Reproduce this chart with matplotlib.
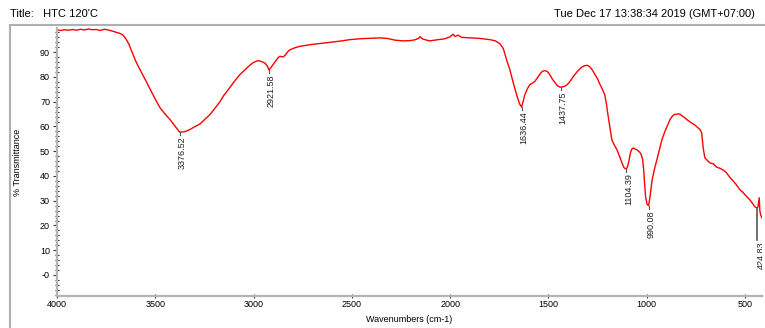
import matplotlib
matplotlib.use("Agg")
import matplotlib.pyplot as plt
from matplotlib.patches import Rectangle

plt.rcParams['font.family'] = ['Liberation Sans', 'DejaVu Sans']

# FTIR spectrum (wavenumber, %T)
wavenumber = [4000, 3980, 3960, 3940, 3920, 3900, 3880, 3860, 3840, 3820, 3800, 3780,
              3760, 3740, 3720, 3700, 3680, 3665, 3650, 3635, 3620, 3600, 3578, 3550,
              3527, 3500, 3476, 3450, 3425, 3400, 3376, 3350, 3323, 3300, 3273, 3250,
              3222, 3200, 3171, 3150, 3120, 3100, 3069, 3040, 3018, 3000, 2978, 2960,
              2942, 2930, 2921, 2910, 2891, 2875, 2866, 2850, 2840, 2825, 2815, 2790,
              2764, 2700, 2611, 2550, 2510, 2450, 2357, 2320, 2281, 2240, 2204, 2180,
              2160, 2153, 2140, 2120, 2103, 2060, 2030, 2001, 1985, 1975, 1960, 1940,
              1899, 1850, 1797, 1770, 1746, 1730, 1721, 1710, 1696, 1683, 1670, 1657,
              1645, 1636, 1628, 1620, 1607, 1594, 1580, 1569, 1556, 1543, 1530, 1518,
              1505, 1492, 1480, 1467, 1454, 1441, 1428, 1416, 1403, 1390, 1370, 1350,
              1330, 1314, 1300, 1289, 1276, 1263, 1250, 1238, 1225, 1213, 1205, 1197,
              1187, 1177, 1165, 1152, 1145, 1137, 1126, 1116, 1110, 1104, 1098, 1090,
              1083, 1076, 1068, 1060, 1048, 1035, 1027, 1020, 1015, 1010, 1005, 998,
              990, 982, 972, 960, 948, 935, 922, 907, 892, 881, 871, 861, 851, 841,
              831, 818, 805, 792, 780, 755, 729, 720, 712, 704, 690, 678, 660, 645,
              627, 610, 595, 576, 560, 545, 526, 510, 495, 475, 462, 450, 440, 434,
              430, 427, 424, 420, 413]
transmittance = [99.0, 98.8, 99.1, 98.9, 99.2, 98.9, 99.3, 99.0, 99.4, 99.1, 99.2, 98.8,
                 99.3, 99.0, 98.6, 98.1, 97.6, 97.0, 95.5, 93.4, 90.4, 86.5, 83.0, 78.8,
                 75.2, 71.0, 67.6, 65.0, 62.8, 60.2, 57.7, 57.9, 58.8, 59.9, 61.0, 62.7,
                 64.8, 67.0, 70.0, 72.7, 75.8, 78.0, 81.0, 83.2, 84.8, 85.9, 86.6, 86.3,
                 85.6, 84.4, 82.8, 84.0, 86.0, 87.8, 88.4, 88.1, 88.7, 90.3, 91.0, 91.8,
                 92.4, 93.2, 94.0, 94.6, 95.1, 95.5, 95.8, 95.6, 94.9, 94.6, 94.7, 95.0,
                 95.6, 96.3, 95.4, 94.9, 94.6, 95.1, 95.4, 96.2, 97.3, 96.4, 96.9, 96.0,
                 95.8, 95.6, 95.1, 94.6, 93.4, 91.6, 89.3, 86.3, 83.0, 79.0, 75.2, 71.6,
                 68.9, 67.9, 70.1, 72.8, 75.2, 76.9, 77.6, 78.2, 79.6, 81.2, 82.3, 82.6,
                 82.2, 80.9, 79.2, 77.8, 76.5, 75.9, 76.0, 76.3, 77.0, 78.2, 80.5, 82.5,
                 84.0, 84.6, 84.7, 84.1, 82.8, 81.0, 79.3, 77.1, 75.0, 72.8, 69.4, 64.8,
                 59.6, 54.6, 52.6, 50.8, 49.4, 47.8, 45.4, 43.5, 43.0, 42.8, 43.6, 46.0,
                 49.2, 50.8, 51.3, 51.0, 50.5, 49.6, 48.6, 46.5, 42.5, 36.6, 31.4, 28.6,
                 28.0, 32.0, 38.5, 42.8, 46.6, 50.8, 54.7, 58.0, 60.8, 62.8, 64.0, 64.8,
                 64.9, 65.1, 65.0, 64.2, 63.5, 62.6, 61.9, 60.6, 58.8, 57.5, 51.2, 47.4,
                 46.2, 45.3, 44.9, 43.6, 43.1, 42.4, 41.4, 39.4, 38.0, 36.6, 34.5, 33.4,
                 32.0, 30.4, 29.0, 27.6, 27.1, 27.4, 29.6, 31.2, 26.0, 24.3, 23.0]

# Peak annotations (wavenumber, %T at the label anchor, text)
peak_wn = [3376.52, 2921.58, 1636.44, 1437.75, 1104.39, 990.08]
peak_t = [57.7, 82.8, 67.9, 75.9, 42.8, 28.0]
peak_labels = ["3376.52", "2921.58", "1636.44", "1437.75", "1104.39", "990.08"]
edge_peak_wn = 424.83
edge_peak_t = 27.1
edge_peak_label = "424.83"

y_ticks = [0, 10, 20, 30, 40, 50, 60, 70, 80, 90]
y_tick_labels = ["-0", "10", "20", "30", "40", "50", "60", "70", "80", "90"]
x_ticks = [4000, 3500, 3000, 2500, 2000, 1500, 1000, 500]

fig = plt.figure(figsize=(7.65, 3.28), dpi=100)

# outer panel frame
fig.patches.append(Rectangle((10 / 765, -0.05), 1.0, 1 - 25 / 328 + 0.05,
                             transform=fig.transFigure, fill=False,
                             edgecolor='#b0b0b0', linewidth=1.5))

ax = fig.add_axes([57 / 765, 1 - 296 / 328, (762 - 57) / 765, (296 - 28) / 328])
ax.plot(wavenumber, transmittance, color='#ff0000', linewidth=1.0)

ax.set_xlim(4000, 413)
ax.set_ylim(-8.5, 99.8)

ax.set_yticks(y_ticks)
ax.set_yticklabels(y_tick_labels)
ax.set_yticks(list(range(-8, 100, 2)), minor=True)
ax.set_xticks(x_ticks)

for side in ('top', 'right'):
    ax.spines[side].set_visible(False)
for side in ('left', 'bottom'):
    ax.spines[side].set_color('#b4b4b4')
    ax.spines[side].set_linewidth(1.6)

ax.tick_params(axis='y', which='major', direction='out', length=3, width=0.8,
               color='#333333', labelsize=6.5, pad=2)
ax.tick_params(axis='y', which='minor', direction='inout', length=2.5, width=0.8,
               color='#333333')
ax.tick_params(axis='x', which='major', direction='inout', length=3, width=0.8,
               color='#333333', labelsize=6.5, pad=1.5)

ax.set_ylabel('% Transmittance', fontsize=6.5, labelpad=13)
ax.set_xlabel('Wavenumbers (cm-1)', fontsize=6.5, labelpad=4)

for wn, t, lab in zip(peak_wn, peak_t, peak_labels):
    ax.plot([wn, wn], [t, t - 1.2], color='#555555', linewidth=0.8)
    ax.text(wn - 12, t - 1.8, lab, rotation=90, ha='center', va='top',
            fontsize=6.5, color='#222222', clip_on=True)

# marker bar and clipped label at the last peak on the right edge
ax.plot([440, 440], [edge_peak_t, 14.0], color='#555555', linewidth=1.2)
ax.text(edge_peak_wn - 8, 13.5, edge_peak_label, rotation=90, ha='center', va='top',
        fontsize=6.5, color='#222222', clip_on=True)

fig.text(10 / 765, 1 - 14 / 328, "Title:   HTC 120'C", fontsize=8, va='center', ha='left')
fig.text(755 / 765, 1 - 14 / 328, "Tue Dec 17 13:38:34 2019 (GMT+07:00)",
         fontsize=8, va='center', ha='right')

fig.savefig('out.png', dpi=100)
